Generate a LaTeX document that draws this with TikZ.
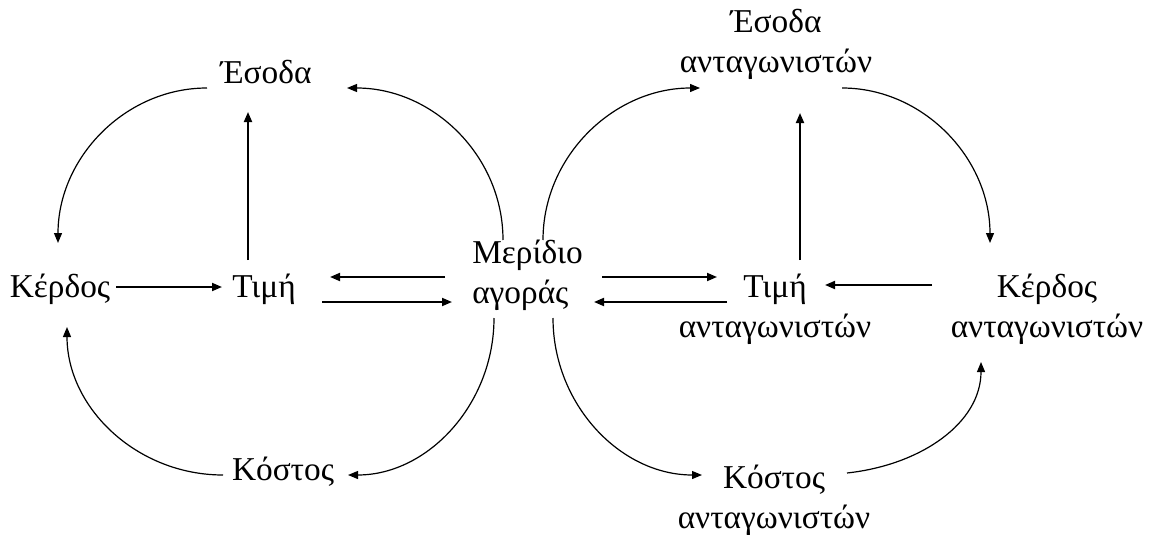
\documentclass[tikz,border=0pt]{standalone}
\usepackage{fontspec}
\setmainfont{Liberation Serif}
\usetikzlibrary{arrows.meta,calc}
\begin{document}
\begin{tikzpicture}[x=0.75pt,y=0.75pt,
  lbl/.style={inner sep=0pt,align=center,font=\fontsize{25}{30}\selectfont},
  arr/.style={-{Triangle[length=7.5pt,width=6pt]},line width=1.4pt},
  carr/.style={-{Triangle[length=7.5pt,width=6pt]},line width=0.9pt}]
\useasboundingbox (0,0) rectangle (1156,-535);
% nodes
\node[lbl] (eso) at (266,-76) {\strut Έσοδα};
\node[lbl] (ker) at (60,-289) {\strut Κέρδος};
\node[lbl] (tim) at (264,-289) {\strut Τιμή};
\node[lbl,align=left,anchor=west] (mer) at (472,-275) {\strut Μερίδιο\\\strut αγοράς};
\node[lbl] (kos) at (283,-472) {\strut Κόστος};
\node[lbl] (esa) at (776,-45) {\strut Έσοδα\\\strut ανταγωνιστών};
\node[lbl] (tia) at (775,-309) {\strut Τιμή\\\strut ανταγωνιστών};
\node[lbl] (kea) at (1047,-309) {\strut Κέρδος\\\strut ανταγωνιστών};
\node[lbl] (koa) at (774,-500) {\strut Κόστος\\\strut ανταγωνιστών};
% straight connectors
\draw[arr] ($(tim.center)+(-16,29)$) -- ($(eso.center)+(-18,-36)$);
\draw[arr] ($(ker.center)+(56,2)$) -- ($(tim.center)+(-42,2)$);
\draw[arr] ($(mer.west)+(-27,-2)$) -- ($(tim.center)+(66,12)$);
\draw[arr] ($(tim.center)+(58,-13)$) -- ($(mer.west)+(-20,-27)$);
\draw[arr] ($(mer.west)+(130,-2)$) -- ($(tia.center)+(-58,32)$);
\draw[arr] ($(tia.center)+(-48,7)$) -- ($(mer.west)+(122,-27)$);
\draw[arr] ($(tia.center)+(25,49)$) -- ($(esa.center)+(24,-68)$);
\draw[arr] ($(kea.center)+(-115,24)$) -- ($(tia.center)+(50,24)$);
% curved connectors
\draw[carr] ($(eso.center)+(-59,-12)$) .. controls +(-82,0) and +(0,85) .. ($(ker.center)+(-2,46)$);
\draw[carr] ($(mer.west)+(31,35)$) .. controls +(0,84) and +(86,0) .. ($(eso.center)+(81,-12)$);
\draw[carr] ($(mer.west)+(22,-43)$) .. controls +(0,-86) and +(80,0) .. ($(kos.center)+(65,-3)$);
\draw[carr] ($(kos.center)+(-60,-3)$) .. controls +(-86,0) and +(0,-81) .. ($(ker.center)+(7,-38)$);
\draw[carr] ($(mer.west)+(71,35)$) .. controls +(0,84) and +(-86,0) .. ($(esa.center)+(-76,-43)$);
\draw[carr] ($(esa.center)+(66,-43)$) .. controls +(81,0) and +(0,85) .. ($(kea.center)+(-57,66)$);
\draw[carr] ($(mer.west)+(81,-43)$) .. controls +(0,-86) and +(-82,0) .. ($(koa.center)+(-72,25)$);
\draw[carr] ($(koa.center)+(73,27)$) .. controls +(74,8) and +(0,-61) .. ($(kea.center)+(-66,-53)$);
\end{tikzpicture}
\end{document}
